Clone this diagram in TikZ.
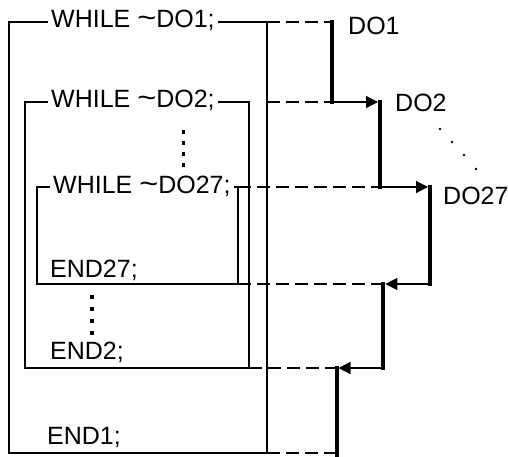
\documentclass[tikz,border=0pt]{standalone}
\usepackage{fontspec}
\setmainfont{Liberation Sans}
\usetikzlibrary{arrows.meta}

\newcommand{\wavy}{\raisebox{-0.5pt}{\scalebox{1.3}[1.15]{\textasciitilde}}}

\begin{document}
\begin{tikzpicture}[x=1pt, y=-1pt, font=\fontsize{25}{30}\selectfont,
        loopbox/.style={draw, line width=1.3pt, inner sep=0pt, outer sep=0pt},
        whilelabel/.style={fill=white, anchor=base west, inner xsep=3pt, inner ysep=1pt},
        textlabel/.style={anchor=base west, inner sep=0pt},
        dashlink/.style={line width=1.3pt, dash pattern=on 13pt off 6pt},
        jumpline/.style={line width=4pt, line cap=rect},
        enterline/.style={line width=1.3pt, shorten >=2pt, -{Triangle[length=12pt, width=12pt]}}]
        \def\xa{332}
        \def\xb{380}
        \def\xc{430}
        \def\xd{383.3}
        \def\xe{336.5}

        \useasboundingbox (0,0) rectangle (508,456);

        \node[loopbox, minimum width=258pt, minimum height=431pt] (loop1) at (138,237.5) {};
        \node[loopbox, minimum width=224pt, minimum height=266pt] (loop2) at (137,235) {};
        \node[loopbox, minimum width=201pt, minimum height=97pt] (loop27) at (137.5,235.5) {};

        \node[whilelabel] (while1) at (48,27) {WHILE \wavy DO1;};
        \node[whilelabel] (while2) at (48,107) {WHILE \wavy DO2;};
        \node[whilelabel] (while27) at (50,193) {WHILE \wavy DO27;};
        \node[textlabel] (end27) at (50,277) {END27;};
        \node[textlabel] (end2) at (50,359) {END2;};
        \node[textlabel] (end1) at (47,444) {END1;};

        \node[textlabel] (do1) at (348,34) {DO1};
        \node[textlabel] (do2) at (395,111) {DO2};
        \node[textlabel] (do27) at (443,204) {DO27};

        \coordinate (j1a) at (\xa,22);
        \coordinate (j1b) at (\xa,102);
        \coordinate (j2a) at (\xb,102);
        \coordinate (j2b) at (\xb,187);
        \coordinate (j3a) at (\xc,187);
        \coordinate (j3b) at (\xc,284);
        \coordinate (j4a) at (\xd,284);
        \coordinate (j4b) at (\xd,368);
        \coordinate (j5a) at (\xe,368);
        \coordinate (j5b) at (\xe,456);
        \coordinate (j6) at (\xe,453);

        \draw[dashlink] (loop1.north east) -- (j1a);
        \draw[dashlink] (loop1.east |- loop2.north) -- (j1b);
        \draw[dashlink] (loop27.north east) -- (j2b);
        \draw[dashlink] (loop27.south east) -- (j4a);
        \draw[dashlink] (loop2.south east) -- (j5a);
        \draw[dashlink] (loop1.south east) -- (j6);

        \draw[jumpline] (j1a) -- (j1b);
        \draw[jumpline] (j2a) -- (j2b);
        \draw[jumpline] (j3a) -- (j3b);
        \draw[jumpline] (j4a) -- (j4b);
        \draw[jumpline] (j5a) -- (j5b);

        \draw[enterline] (j1b) -- (j2a);
        \draw[enterline] (j2b) -- (j3a);
        \draw[enterline] (j3b) -- (j4a);
        \draw[enterline] (j4b) -- (j5a);

        \foreach \y in {132,143,154,165}
            \fill (181.7,\y-1.6) rectangle ++(3.3,3.3);
        \foreach \y in {297,309,321,333}
            \fill (90.3,\y-1.6) rectangle ++(3.3,3.3);
        \foreach \p in {(440,129),(452,142),(464,155),(476,169)}
            \fill \p circle[radius=1.4pt];
\end{tikzpicture}
\end{document}
